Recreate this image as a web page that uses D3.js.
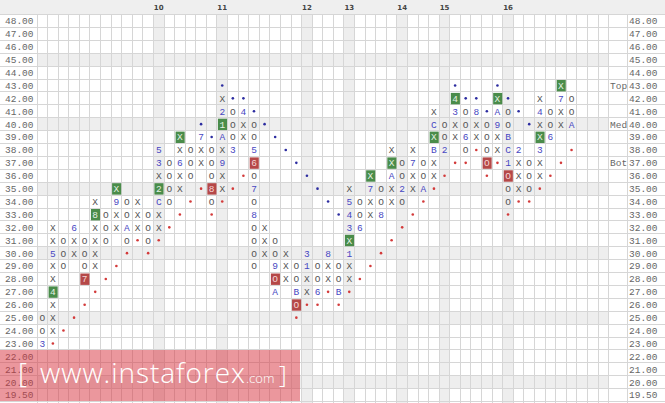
<!DOCTYPE html>
<html><head><meta charset="utf-8">
<script src="https://cdn.jsdelivr.net/npm/d3@7"></script>
<style>body{margin:0;background:#fff}svg{display:block}</style>
</head><body>
<svg id="c" width="665" height="403"></svg>
<script>
// ---- data ----
const rowPrices = [48,47,46,45,44,43,42,41,40,39,38,37,36,35,34,33,32,31,30,29,28,27,26,25,24,23,22,21,20,19.5];
const rowLabels = ["48.00","47.00","46.00","45.00","44.00","43.00","42.00","41.00","40.00","39.00","38.00","37.00","36.00","35.00","34.00","33.00","32.00","31.00","30.00","29.00","28.00","27.00","26.00","25.00","24.00","23.00","22.00","21.00","20.00","19.50"];
const shadedPrices = [45,40,35,30,25,20];
const yearCols = [11,17,25,29,34,38,44];
const yearLabels = ["10","11","12","13","14","15","16"];
const colCount = 54;
// columns of the point & figure chart
const colType = ["O","X","O","X","O","X","O","X","O","X","O","X","O","X","O","X","O","X","O","X","O","X","O","X","O","X","O","X","O","X","O","X","O","X","O","X","O","X","O","X","O","X","O","X","O","X","O","X","O","X","O"];
const colLow  = [23,24,29,30,28,29,31,32,31,32,31,32,34,35,36,37,34,35,38,39,29,30,27,28,26,27,27,28,27,28,32,33,33,34,34,35,35,36,38,39,38,39,37,38,34,35,35,36,39,40,40];
const colHigh = [25,32,31,32,31,34,33,35,34,34,33,38,37,39,38,39,38,42,41,41,40,32,31,30,29,30,29,30,29,35,34,36,35,38,37,38,37,41,40,42,41,41,40,42,41,38,37,42,41,43,42];
// month markers [column, price, text]
const monthMarks = [[0,23,"3"],[1,30,"5"],[3,32,"6"],[7,34,"9"],[8,32,"A"],[11,34,"C"],[11,37,"3"],[11,38,"5"],[13,37,"6"],[15,39,"7"],[17,37,"9"],[17,39,"A"],[17,41,"2"],[18,38,"3"],[19,41,"4"],[20,38,"5"],[20,35,"7"],[20,33,"8"],[22,29,"9"],[22,27,"A"],[24,27,"B"],[25,29,"1"],[25,30,"3"],[26,27,"6"],[27,30,"8"],[28,27,"B"],[29,30,"1"],[29,32,"3"],[29,33,"4"],[29,34,"5"],[30,32,"6"],[31,35,"7"],[32,33,"8"],[33,36,"A"],[34,35,"2"],[35,37,"7"],[36,35,"A"],[37,38,"B"],[37,40,"C"],[38,38,"2"],[39,41,"3"],[40,39,"6"],[41,41,"8"],[43,40,"9"],[43,41,"A"],[44,39,"B"],[44,38,"C"],[44,37,"1"],[45,38,"2"],[47,38,"3"],[47,41,"4"],[48,39,"6"],[49,42,"7"],[50,40,"A"]];
// buy / sell signal boxes [column, price, text]
const buySignals = [[1,27,"4"],[5,33,"8"],[7,35,"X"],[11,35,"2"],[13,39,"X"],[17,40,"1"],[29,31,"X"],[31,36,"X"],[33,37,"X"],[37,39,"X"],[39,42,"4"],[43,42,"X"],[47,39,"X"],[49,43,"X"]];
const sellSignals = [[4,28,"7"],[16,35,"8"],[20,37,"6"],[22,28,"O"],[24,26,"O"],[42,37,"O"],[44,36,"O"]];
// trend line dots [column, price]
const supportDots = [[1,23],[2,24],[3,25],[4,26],[5,27],[6,28],[7,29],[8,30],[9,31],[10,30],[11,31],[12,32],[13,33],[14,34],[15,35],[16,33],[17,34],[18,35],[19,36],[24,25],[25,26],[26,26],[27,27],[28,26],[29,27],[30,28],[31,29],[32,30],[33,31],[34,32],[35,33],[36,34],[37,35],[38,36],[39,37],[40,37],[41,38],[42,36],[43,37],[44,33],[45,34],[46,34],[47,35],[48,36],[49,37],[50,38]];
const resistDots = [[15,40],[16,39],[17,43],[18,42],[19,42],[20,41],[21,40],[22,39],[23,38],[24,37],[25,36],[26,35],[27,34],[28,33],[39,43],[40,42],[41,42],[42,41],[43,43],[44,42],[45,41],[46,40]];
const levelNames = ["Top","Med","Bot"];
const levelPrices = [43,40,37];

// ---- drawing ----
const W = 665, H = 403;
const svg = d3.select("#c");
const x = d3.scaleBand().domain(d3.range(colCount)).range([37, 608.6]);
const y = d3.scaleBand().domain(rowPrices).range([14.5, 401.5]);
const gx0 = x.range()[0], gx1 = x.range()[1];
const mono = "'Liberation Mono','DejaVu Sans Mono',monospace";

svg.append("rect").attr("width",W).attr("height",H).attr("fill","#fff");
svg.append("rect").attr("width",W).attr("height",y.range()[0]).attr("fill","#efefef");

// shaded rows & columns
svg.append("g").selectAll("rect").data(shadedPrices).join("rect")
  .attr("x",gx0).attr("width",gx1-gx0).attr("y",d=>y(d)).attr("height",y.bandwidth()).attr("fill","#eeeeee");
svg.append("g").selectAll("rect").data(yearCols).join("rect")
  .attr("x",d=>x(d)).attr("width",x.bandwidth()).attr("y",y.range()[0]).attr("height",H-y.range()[0]).attr("fill","#eeeeee");

// grid
const grid = svg.append("g").attr("stroke","#d6d6d6").attr("stroke-width",1).attr("shape-rendering","crispEdges");
grid.selectAll("line.h").data(rowPrices.map(p=>y(p)).concat([y.range()[1]])).join("line").attr("class","h")
  .attr("x1",0).attr("x2",W).attr("y1",d=>d).attr("y2",d=>d);
grid.selectAll("line.v").data(d3.range(colCount+1).map(i=>gx0+i*x.bandwidth())).join("line").attr("class","v")
  .attr("x1",d=>d).attr("x2",d=>d).attr("y1",y.range()[0]).attr("y2",H);
grid.append("line").attr("x1",627).attr("x2",627).attr("y1",y.range()[0]).attr("y2",H);

// year header
svg.append("g").selectAll("text").data(yearCols).join("text")
  .attr("x",d=>x(d)+x.bandwidth()/2).attr("y",9.5).attr("text-anchor","middle")
  .attr("font-family","'DejaVu Sans',sans-serif").attr("font-size",7).attr("font-weight","bold").attr("fill","#444")
  .text((d,i)=>yearLabels[i]);

// price labels
svg.append("g").selectAll("text").data(rowPrices).join("text")
  .attr("x",5).attr("y",d=>y(d)+y.bandwidth()/2).attr("dy","0.36em")
  .attr("font-family",mono).attr("font-size",9.5).attr("fill","#666").text((d,i)=>rowLabels[i]);
svg.append("g").selectAll("text").data(rowPrices).join("text")
  .attr("x",629).attr("y",d=>y(d)+y.bandwidth()/2).attr("dy","0.36em")
  .attr("font-family",mono).attr("font-size",9.5).attr("fill","#666").text((d,i)=>rowLabels[i]);
svg.append("g").selectAll("text").data(levelPrices).join("text")
  .attr("x",610).attr("y",d=>y(d)+y.bandwidth()/2).attr("dy","0.36em")
  .attr("font-family",mono).attr("font-size",9.5).attr("fill","#666").text((d,i)=>levelNames[i]);

// build cell list from columns
const key = (c,p)=>c+"_"+p;
const special = new Set();
monthMarks.concat(buySignals,sellSignals).forEach(d=>special.add(key(d[0],d[1])));
const cells = [];
colType.forEach((t,c)=>{
  for(let p=colLow[c]; p<=colHigh[c]; p++){ if(!special.has(key(c,p))) cells.push([c,p,t]); }
});
const cx = c=>x(c)+x.bandwidth()/2, cy = p=>y(p)+y.bandwidth()/2;

svg.append("g").selectAll("text").data(cells).join("text")
  .attr("x",d=>cx(d[0])).attr("y",d=>cy(d[1])).attr("dy","0.36em").attr("text-anchor","middle")
  .attr("font-family",mono).attr("font-size",9.5).attr("fill","#555").text(d=>d[2]);
svg.append("g").selectAll("text").data(monthMarks).join("text")
  .attr("x",d=>cx(d[0])).attr("y",d=>cy(d[1])).attr("dy","0.36em").attr("text-anchor","middle")
  .attr("font-family",mono).attr("font-size",9.5).attr("fill","#4747c2").text(d=>d[2]);

function boxes(data, fill, tc){
  const g = svg.append("g");
  g.selectAll("rect").data(data).join("rect")
    .attr("x",d=>x(d[0])+1).attr("y",d=>y(d[1])+1).attr("width",x.bandwidth()-1.5).attr("height",y.bandwidth()-1.5).attr("fill",fill);
  g.selectAll("text").data(data).join("text")
    .attr("x",d=>cx(d[0])).attr("y",d=>cy(d[1])).attr("dy","0.36em").attr("text-anchor","middle")
    .attr("font-family",mono).attr("font-size",9.5).attr("fill",tc).text(d=>d[2]);
}
boxes(buySignals,"#4a8c4a","#e4f2e4");
boxes(sellSignals,"#b54848","#f6d6d6");

svg.append("g").selectAll("circle").data(supportDots).join("circle")
  .attr("cx",d=>cx(d[0])).attr("cy",d=>cy(d[1])).attr("r",1.3).attr("fill","#d33a3a");
svg.append("g").selectAll("circle").data(resistDots).join("circle")
  .attr("cx",d=>cx(d[0])).attr("cy",d=>cy(d[1])).attr("r",1.3).attr("fill","#2c2ca0");

// watermark
const wm = svg.append("g");
wm.append("rect").attr("x",0).attr("y",350).attr("width",300).attr("height",51).attr("fill","#d8303c").attr("opacity",0.5);
const wt = wm.append("text").attr("y",383).attr("fill","#fff").attr("font-family","'Open Sans',sans-serif").attr("font-weight",300);
wt.append("tspan").attr("x",18).attr("font-size",28).text("[");
wt.append("tspan").attr("x",40).attr("font-size",28).attr("textLength",205).attr("lengthAdjust","spacing").text("www.instaforex");
wt.append("tspan").attr("x",246).attr("font-size",13).text(".com");
wt.append("tspan").attr("x",279).attr("font-size",24).text("]");
</script>
</body></html>
